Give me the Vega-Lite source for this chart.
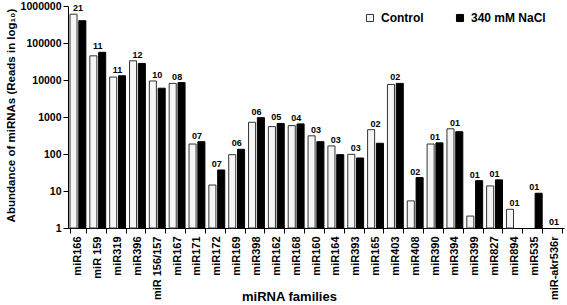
{
  "$schema": "https://vega.github.io/schema/vega-lite/v6.json",
  "width": 496,
  "height": 222,
  "autosize": {"type": "none"},
  "padding": {"left": 68, "top": 6, "right": 3, "bottom": 77},
  "background": "white",
  "config": {
    "view": {"stroke": null},
    "font": "Liberation Sans",
    "axis": {
      "domainColor": "#000000",
      "tickColor": "#000000",
      "labelColor": "#000000",
      "titleColor": "#000000",
      "grid": false,
      "tickSize": 5,
      "labelFontWeight": "bold",
      "titleFontWeight": "bold"
    },
    "legend": {
      "labelFont": "Liberation Sans"
    }
  },
  "datasets": {
    "bars": [
      {"family": "miR166", "condition": "Control", "value": 600000},
      {"family": "miR166", "condition": "340 mM NaCl", "value": 400000},
      {"family": "miR 159", "condition": "Control", "value": 45000},
      {"family": "miR 159", "condition": "340 mM NaCl", "value": 56000},
      {"family": "miR319", "condition": "Control", "value": 12000},
      {"family": "miR319", "condition": "340 mM NaCl", "value": 13000},
      {"family": "miR396", "condition": "Control", "value": 33000},
      {"family": "miR396", "condition": "340 mM NaCl", "value": 28000},
      {"family": "miR 156/157", "condition": "Control", "value": 9400},
      {"family": "miR 156/157", "condition": "340 mM NaCl", "value": 6000},
      {"family": "miR167", "condition": "Control", "value": 8100},
      {"family": "miR167", "condition": "340 mM NaCl", "value": 8500},
      {"family": "miR171", "condition": "Control", "value": 186},
      {"family": "miR171", "condition": "340 mM NaCl", "value": 215},
      {"family": "miR172", "condition": "Control", "value": 14.5},
      {"family": "miR172", "condition": "340 mM NaCl", "value": 37},
      {"family": "miR169", "condition": "Control", "value": 96},
      {"family": "miR169", "condition": "340 mM NaCl", "value": 134},
      {"family": "miR398", "condition": "Control", "value": 720},
      {"family": "miR398", "condition": "340 mM NaCl", "value": 960},
      {"family": "miR162", "condition": "Control", "value": 550},
      {"family": "miR162", "condition": "340 mM NaCl", "value": 670},
      {"family": "miR168", "condition": "Control", "value": 585},
      {"family": "miR168", "condition": "340 mM NaCl", "value": 650},
      {"family": "miR160", "condition": "Control", "value": 310},
      {"family": "miR160", "condition": "340 mM NaCl", "value": 215},
      {"family": "miR164", "condition": "Control", "value": 165},
      {"family": "miR164", "condition": "340 mM NaCl", "value": 96},
      {"family": "miR393", "condition": "Control", "value": 98},
      {"family": "miR393", "condition": "340 mM NaCl", "value": 78},
      {"family": "miR165", "condition": "Control", "value": 455},
      {"family": "miR165", "condition": "340 mM NaCl", "value": 195},
      {"family": "miR403", "condition": "Control", "value": 7600},
      {"family": "miR403", "condition": "340 mM NaCl", "value": 8100},
      {"family": "miR408", "condition": "Control", "value": 5.4},
      {"family": "miR408", "condition": "340 mM NaCl", "value": 23},
      {"family": "miR390", "condition": "Control", "value": 186},
      {"family": "miR390", "condition": "340 mM NaCl", "value": 200},
      {"family": "miR394", "condition": "Control", "value": 480},
      {"family": "miR394", "condition": "340 mM NaCl", "value": 400},
      {"family": "miR399", "condition": "Control", "value": 2.1},
      {"family": "miR399", "condition": "340 mM NaCl", "value": 19},
      {"family": "miR827", "condition": "Control", "value": 13.7},
      {"family": "miR827", "condition": "340 mM NaCl", "value": 20},
      {"family": "miR894", "condition": "Control", "value": 3.2},
      {"family": "miR894", "condition": "340 mM NaCl", "value": null},
      {"family": "miR535", "condition": "Control", "value": null},
      {"family": "miR535", "condition": "340 mM NaCl", "value": 8.7},
      {"family": "miR-akr536r", "condition": "Control", "value": null},
      {"family": "miR-akr536r", "condition": "340 mM NaCl", "value": null}
    ],
    "labels": [
      {"family": "miR166", "n": "21", "top": 600000},
      {"family": "miR 159", "n": "11", "top": 56000},
      {"family": "miR319", "n": "11", "top": 13000},
      {"family": "miR396", "n": "12", "top": 33000},
      {"family": "miR 156/157", "n": "10", "top": 9400},
      {"family": "miR167", "n": "08", "top": 8500},
      {"family": "miR171", "n": "07", "top": 215},
      {"family": "miR172", "n": "07", "top": 37},
      {"family": "miR169", "n": "06", "top": 134},
      {"family": "miR398", "n": "06", "top": 960},
      {"family": "miR162", "n": "05", "top": 670},
      {"family": "miR168", "n": "04", "top": 650},
      {"family": "miR160", "n": "03", "top": 310},
      {"family": "miR164", "n": "03", "top": 165},
      {"family": "miR393", "n": "03", "top": 98},
      {"family": "miR165", "n": "02", "top": 455},
      {"family": "miR403", "n": "02", "top": 8100},
      {"family": "miR408", "n": "02", "top": 23},
      {"family": "miR390", "n": "01", "top": 200},
      {"family": "miR394", "n": "01", "top": 480},
      {"family": "miR399", "n": "01", "top": 19},
      {"family": "miR827", "n": "01", "top": 20},
      {"family": "miR894", "n": "01", "top": 3.2},
      {"family": "miR535", "n": "01", "top": 8.7},
      {"family": "miR-akr536r", "n": "01", "top": 1}
    ]
  },
  "layer": [
    {
      "data": {"name": "bars"},
      "mark": {"type": "bar", "strokeWidth": 1},
      "encoding": {
        "x": {
          "field": "family",
          "type": "nominal",
          "sort": null,
          "scale": {"paddingInner": 0.2, "paddingOuter": 0.1},
          "axis": {
            "title": "miRNA families",
            "titleFontSize": 13,
            "titleX": 221,
            "titleY": 62,
            "titleAnchor": null,
            "titleAlign": "center",
            "titleBaseline": "top",
            "labelAngle": 270,
            "labelFontSize": 11,
            "labelPadding": 3,
            "tickBand": "extent"
          }
        },
        "xOffset": {
          "field": "condition",
          "type": "nominal",
          "sort": ["Control", "340 mM NaCl"],
          "scale": {"paddingInner": 0.2}
        },
        "y": {
          "field": "value",
          "type": "quantitative",
          "stack": null,
          "scale": {"type": "log", "domain": [1, 1000000]},
          "axis": {
            "title": "Abundance of miRNAs (Reads  in log₁₀)",
            "titleFontSize": 11.5,
            "titleY": 109,
            "values": [1, 10, 100, 1000, 10000, 100000, 1000000],
            "format": "d",
            "labelFontSize": 10.5,
            "labelPadding": 2
          }
        },
        "fill": {
          "field": "condition",
          "type": "nominal",
          "scale": {"domain": ["Control", "340 mM NaCl"], "range": ["#f5f5f5", "#000000"]},
          "legend": {
            "title": null,
            "orient": "none",
            "direction": "horizontal",
            "legendX": 296,
            "legendY": 6,
            "symbolType": "square",
            "symbolSize": 50,
            "symbolStrokeColor": "#444444",
            "symbolStrokeWidth": 1,
            "labelFontSize": 12,
            "labelFontWeight": "bold",
            "labelColor": "#000000",
            "columnPadding": 30,
            "labelOffset": 5
          }
        },
        "stroke": {
          "field": "condition",
          "type": "nominal",
          "scale": {"domain": ["Control", "340 mM NaCl"], "range": ["#333333", "#000000"]},
          "legend": null
        }
      }
    },
    {
      "data": {"name": "labels"},
      "mark": {"type": "text", "fontSize": 9, "fontWeight": "bold", "baseline": "alphabetic", "dy": -3, "color": "#000000"},
      "encoding": {
        "x": {"field": "family", "type": "nominal", "sort": null},
        "y": {"field": "top", "type": "quantitative"},
        "text": {"field": "n"}
      }
    }
  ]
}
